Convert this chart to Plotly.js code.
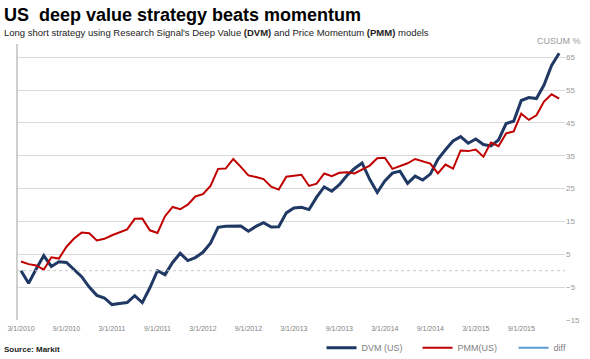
<!DOCTYPE html>
<html>
<head>
<meta charset="utf-8">
<script src="https://cdn.plot.ly/plotly-3.0.1.min.js"></script>
<style>html,body{margin:0;padding:0;background:#fff;}#chart{width:590px;height:359px;}</style>
</head>
<body>
<div id="chart"></div>
<script>
const months = [
 "3/1/2010","4/1/2010","5/1/2010","6/1/2010","7/1/2010","8/1/2010","9/1/2010","10/1/2010","11/1/2010","12/1/2010",
 "1/1/2011","2/1/2011","3/1/2011","4/1/2011","5/1/2011","6/1/2011","7/1/2011","8/1/2011","9/1/2011","10/1/2011","11/1/2011","12/1/2011",
 "1/1/2012","2/1/2012","3/1/2012","4/1/2012","5/1/2012","6/1/2012","7/1/2012","8/1/2012","9/1/2012","10/1/2012","11/1/2012","12/1/2012",
 "1/1/2013","2/1/2013","3/1/2013","4/1/2013","5/1/2013","6/1/2013","7/1/2013","8/1/2013","9/1/2013","10/1/2013","11/1/2013","12/1/2013",
 "1/1/2014","2/1/2014","3/1/2014","4/1/2014","5/1/2014","6/1/2014","7/1/2014","8/1/2014","9/1/2014","10/1/2014","11/1/2014","12/1/2014",
 "1/1/2015","2/1/2015","3/1/2015","4/1/2015","5/1/2015","6/1/2015","7/1/2015","8/1/2015","9/1/2015","10/1/2015","11/1/2015","12/1/2015",
 "1/1/2016","2/1/2016"
];
const dvm = [
 0, -3.8, 0.5, 4.6, 1.3, 2.7, 2.5, 0.5, -1.8, -5.0,
 -7.5, -8.3, -10.3, -10.0, -9.7, -7.6, -9.7, -5.2, 0.0, -1.2, 2.5, 5.3,
 3.1, 4.0, 5.6, 8.4, 13.2, 13.5, 13.6, 13.6, 12.0, 13.5, 14.6, 13.3,
 13.4, 17.6, 19.1, 19.3, 18.6, 22.4, 25.5, 24.2, 26.2, 29.0, 31.1, 32.8,
 27.8, 23.8, 27.3, 29.7, 30.3, 26.6, 28.8, 27.6, 29.4, 33.9, 36.8, 39.5,
 40.8, 38.8, 40.1, 38.4, 38.0, 39.8, 44.8, 45.5, 51.8, 52.7, 52.4, 56.5,
 62.5, 66.2
];
const pmm = [
 2.8, 2.0, 1.6, 0.3, 4.1, 3.7, 7.3, 9.8, 11.6, 11.4,
 9.2, 9.7, 10.8, 11.8, 12.6, 15.8, 15.9, 12.3, 11.5, 16.6, 19.4, 18.7,
 20.1, 22.6, 23.3, 25.8, 31.0, 31.1, 34.0, 31.6, 29.0, 28.5, 27.9, 25.6,
 24.7, 28.6, 28.8, 29.2, 25.8, 26.5, 29.6, 28.8, 29.8, 30.0, 29.6, 30.7,
 32.0, 34.2, 34.4, 31.0, 31.8, 32.7, 34.0, 33.4, 32.6, 29.6, 32.3, 31.1,
 36.6, 36.4, 36.9, 34.7, 39.0, 37.9, 41.8, 42.4, 47.8, 45.9, 47.3, 51.5,
 53.7, 52.4
];
const diff = [null];
const xTickLabels = ["3/1/2010","9/1/2010","3/1/2011","9/1/2011","3/1/2012","9/1/2012","3/1/2013","9/1/2013","3/1/2014","9/1/2014","3/1/2015","9/1/2015"];
const yTicks = [-15, -5, 5, 15, 25, 35, 45, 55, 65];

const FONT = "Liberation Sans, Arial, sans-serif";
const traces = [
 {x: months, y: dvm, name: "DVM (US)", type: "scatter", mode: "lines",
  line: {color: "#1f3864", width: 3}},
 {x: months, y: pmm, name: "PMM(US)", type: "scatter", mode: "lines",
  line: {color: "#c00000", width: 2}},
 {x: [months[0]], y: diff, name: "diff", type: "scatter", mode: "lines",
  line: {color: "#5b9bd5", width: 2}}
];
const layout = {
 width: 590, height: 359,
 margin: {l: 17, r: 25, t: 44, b: 39},
 paper_bgcolor: "#fff", plot_bgcolor: "#fff",
 font: {family: FONT, color: "#808080", size: 8},
 showlegend: true,
 legend: {orientation: "h", xref: "container", yref: "container", x: 0.545, y: 0.072,
  xanchor: "left", yanchor: "top", font: {size: 9, color: "#7f7f7f"},
  itemwidth: 30, entrywidth: 51, traceorder: "normal", bgcolor: "rgba(0,0,0,0)"},
 xaxis: {type: "category", range: [-0.53, 71.77], tickmode: "array", tickvals: xTickLabels,
  ticktext: xTickLabels, showgrid: false, zeroline: false, showline: false, ticks: "",
  tickfont: {size: 7, color: "#7f7f7f"}, tickangle: 0, ticklabelstandoff: 3, fixedrange: true},
 yaxis: {side: "right", range: [-15, 69], tickmode: "array", tickvals: yTicks,
  showgrid: true, gridcolor: "#d9d9d9", gridwidth: 1, zeroline: false, showline: false,
  ticks: "", tickfont: {size: 8, color: "#9a9a9a"}, fixedrange: true},
 shapes: [
  {type: "line", xref: "paper", yref: "y", x0: 0, x1: 1, y0: 0, y1: 0,
   line: {color: "#c8c8c8", width: 1, dash: "dot"}},
  {type: "line", xref: "paper", yref: "paper", x0: 0, x1: 0, y0: 0, y1: 1,
   line: {color: "#bfbfbf", width: 1.5}}
 ],
 annotations: [
  {xref: "paper", yref: "paper", x: -0.0274, y: 1.148, xanchor: "left", yanchor: "top",
   showarrow: false, text: "<b>US  deep value strategy beats momentum</b>",
   font: {family: FONT, size: 18, color: "#000"}},
  {xref: "paper", yref: "paper", x: -0.0274, y: 1.07, xanchor: "left", yanchor: "top",
   showarrow: false,
   text: "Long short strategy using Research Signal's Deep Value <b>(DVM)</b> and Price Momentum <b>(PMM)</b> models",
   font: {family: FONT, size: 9.5, color: "#222"}},
  {xref: "paper", yref: "paper", x: 1.033, y: 1.036, xanchor: "right", yanchor: "top",
   showarrow: false, text: "CUSUM %", font: {family: FONT, size: 9, color: "#9a9a9a"}},
  {xref: "paper", yref: "paper", x: -0.0274, y: -0.085, xanchor: "left", yanchor: "top",
   showarrow: false, text: "<b>Source: Markit</b>", font: {family: FONT, size: 8, color: "#222"}}
 ]
};
Plotly.newPlot("chart", traces, layout, {displayModeBar: false, staticPlot: true});
</script>
</body>
</html>
